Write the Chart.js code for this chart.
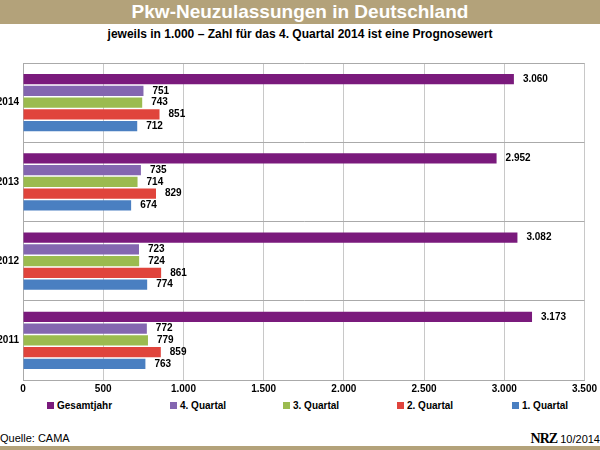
<!DOCTYPE html>
<html>
<head>
<meta charset="utf-8">
<script src="https://cdn.jsdelivr.net/npm/chart.js@4"></script>
<style>
  body { margin: 0; width: 600px; height: 450px; overflow: hidden; background: #fff; font-family: "Liberation Sans", Arial, sans-serif; position: relative; }
  #head { height: 24px; background: #b3a27a; color: #fff; font-weight: bold; font-size: 19px; text-align: center; line-height: 24px; }
  #sub { height: 16px; text-align: center; font-weight: bold; font-size: 12px; line-height: 16px; margin-top: 2px; }
  #wrap { position: absolute; left: 0; top: 42px; width: 600px; height: 356px; }
  #legend { position: absolute; top: 400px; left: 0; width: 600px; font-size: 10px; font-weight: bold; }
  #legend span { position: absolute; white-space: nowrap; }
  #legend i { display: inline-block; width: 7px; height: 7px; margin-right: 3px; }
  #src { position: absolute; left: 0; top: 432px; font-size: 11px; }
  #nrz { position: absolute; right: 0; top: 431px; font-size: 11px; }
  #nrz b { font-family: "Liberation Serif", serif; font-size: 14px; letter-spacing: -1px; }
  #foot { position: absolute; left: 0; top: 446px; width: 600px; height: 4px; background: #b3a27a; }
</style>
</head>
<body>
<div id="head">Pkw-Neuzulassungen in Deutschland</div>
<div id="sub">jeweils in 1.000 – Zahl für das 4. Quartal 2014 ist eine Prognosewert</div>
<div id="wrap"><canvas id="chart"></canvas></div>
<div id="legend"></div>
<div id="src">Quelle: CAMA</div>
<div id="nrz"><b>NRZ</b> 10/2014</div>
<div id="foot"></div>
<script>
const years = ["2014", "2013", "2012", "2011"];
const seriesNames = ["Gesamtjahr", "4. Quartal", "3. Quartal", "2. Quartal", "1. Quartal"];
const gesamtjahr = [3060, 2952, 3082, 3173];
const quartal4 = [751, 735, 723, 772];
const quartal3 = [743, 714, 724, 779];
const quartal2 = [851, 829, 861, 859];
const quartal1 = [712, 674, 774, 763];

const colors = ["#7a1a7c", "#8466b0", "#9bbb4f", "#e0443c", "#4a7fc1"];
const fmt = v => v.toLocaleString("de-DE");

// value labels to the right of each bar
const valueLabels = {
    id: "valueLabels",
    afterDatasetsDraw(chart) {
        const ctx = chart.ctx;
        ctx.save();
        ctx.font = "bold 10px 'Liberation Sans', Arial";
        ctx.fillStyle = "#000";
        ctx.textBaseline = "middle";
        chart.data.datasets.forEach((ds, i) => {
            chart.getDatasetMeta(i).data.forEach((bar, j) => {
                ctx.fillText(fmt(ds.data[j]), bar.x + 9, bar.y);
            });
        });
        ctx.restore();
    }
};

const allData = [gesamtjahr, quartal4, quartal3, quartal2, quartal1];

new Chart(document.getElementById("chart"), {
    type: "bar",
    data: {
        labels: years,
        datasets: seriesNames.map((name, i) => ({ label: name, data: allData[i], backgroundColor: colors[i] })),
    },
    options: {
        indexAxis: "y",
        responsive: true,
        maintainAspectRatio: false,
        animation: false,
        categoryPercentage: 0.74,
        barPercentage: 0.88,
        layout: { padding: { top: 21, right: -14, left: 0, bottom: 0 } },
        scales: {
            x: {
                min: 0, max: 3500,
                ticks: { stepSize: 500, color: "#000", font: { weight: "bold", size: 10 }, callback: v => fmt(v) },
                grid: { color: "#c8c8c8", drawTicks: false },
                border: { color: "#aaa" },
            },
            y: {
                afterFit: s => { s.width = 23; },
                ticks: { color: "#000", font: { weight: "bold", size: 10 }, padding: 4 },
                grid: { offset: true, color: "#aaa", drawTicks: false },
                border: { color: "#aaa" },
            },
        },
        plugins: {
            legend: { display: false },
            tooltip: { enabled: false },
        },
    },
    plugins: [valueLabels],
});

// legend laid out like the original, spread across the width
const legendX = [47, 170, 283, 397, 512];
const legend = document.getElementById("legend");
seriesNames.forEach((name, i) => {
    const s = document.createElement("span");
    s.style.left = legendX[i] + "px";
    s.innerHTML = `<i style="background:${colors[i]}"></i>${name}`;
    legend.appendChild(s);
});
</script>
</body>
</html>
